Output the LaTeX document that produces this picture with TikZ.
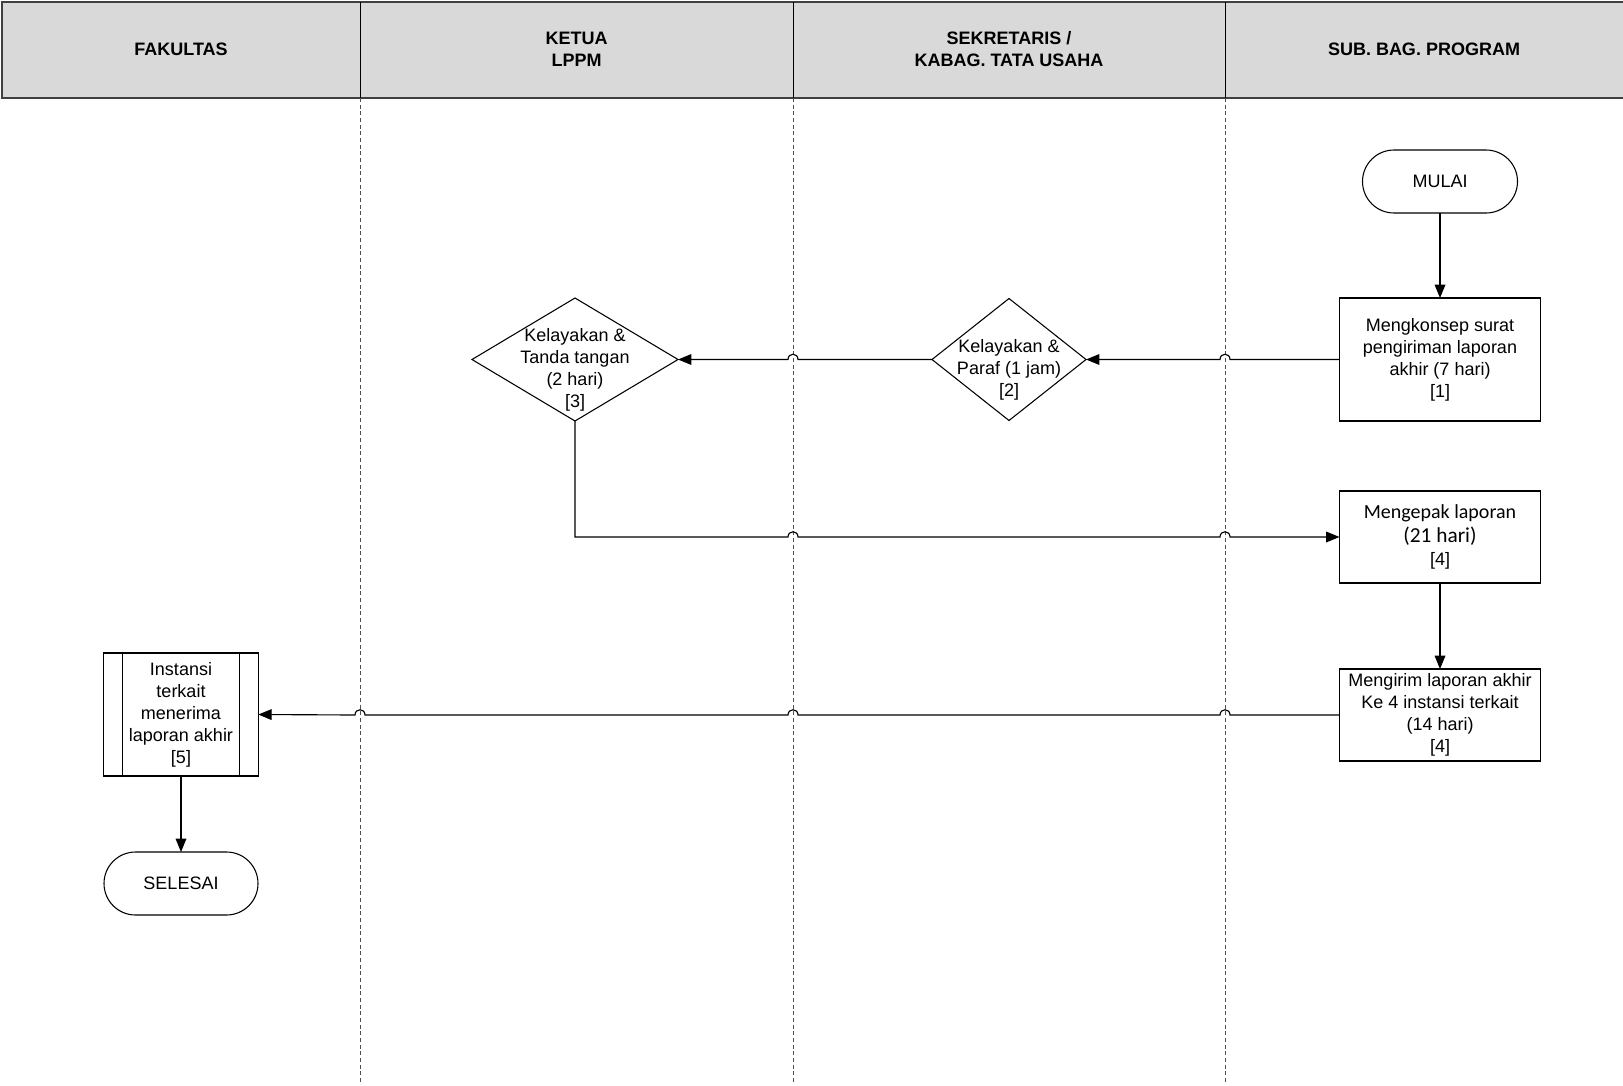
\documentclass[tikz,border=0pt]{standalone}
\usepackage{fontspec}
\setmainfont{Liberation Sans}
\newfontfamily\calibfont{Carlito}
\usetikzlibrary{shapes.geometric,shapes.misc,arrows.meta,calc}
\definecolor{hdrgray}{HTML}{D9D9D9}
\definecolor{lanegray}{HTML}{505050}
\begin{document}
\begin{tikzpicture}[x=0.75pt,y=-0.75pt,
  base/.style={draw=black, line width=0.8pt, inner sep=0pt, outer sep=0pt, align=center,
    font=\fontsize{13.5}{16.5}\selectfont},
  txt/.style={inner sep=0pt, align=center, font=\fontsize{13.5}{16.5}\selectfont},
  hdr/.style={inner sep=0pt, align=center, font=\bfseries\fontsize{13.5}{16.5}\selectfont},
  term/.style={base, rounded rectangle, minimum height=47.25pt},
  procbox/.style={base, rectangle},
  dia/.style={base, diamond},
  conn/.style={line width=0.85pt, -{Triangle[length=10pt,width=8pt]}},
  lane/.style={draw=lanegray, line width=0.75pt, dash pattern=on 3pt off 2pt}
]
\useasboundingbox (0,0) rectangle (1623,1085);

% header
\draw[fill=hdrgray, draw=black!75, line width=0.9pt] (2,2) rectangle (1624,98);
\coordinate (lane1) at (360,98);
\coordinate (lane2) at (793,98);
\coordinate (lane3) at (1225,98);
\draw[line width=0.75pt] (360,2) -- (lane1);
\draw[line width=0.75pt] (793,2) -- (lane2);
\draw[line width=0.75pt] (1225,2) -- (lane3);
\draw[lane] (lane1) -- (360,1082);
\draw[lane] (lane2) -- (793,1082);
\draw[lane] (lane3) -- (1225,1082);

\node[hdr] (h1) at (181,49) {FAKULTAS};
\node[hdr] (h2) at (576.5,49) {KETUA\\LPPM};
\node[hdr] (h3) at (1009,49) {SEKRETARIS /\\KABAG. TATA USAHA};
\node[hdr] (h4) at (1424,49) {SUB. BAG. PROGRAM};

% nodes
\node[term, minimum width=116.25pt] (mulai) at (1440,181.5) {MULAI};
\node[procbox, minimum width=150.75pt, minimum height=92.25pt] (b1) at (1440,359.5)
  {Mengkonsep surat\\pengiriman laporan\\akhir (7 hari)\\{}[1]};
\node[dia, minimum width=115.5pt, minimum height=91.5pt] (d2) at (1009,359.5) {};
\node[txt] (t2) at ($(d2)+(0,10)$) {Kelayakan \&\\Paraf (1 jam)\\{}[2]};
\node[dia, minimum width=154.5pt, minimum height=92.25pt] (d3) at (575,359.5) {};
\node[txt] (t3) at ($(d3)+(0,10)$) {Kelayakan \&\\Tanda tangan\\(2 hari)\\{}[3]};
\node[procbox, minimum width=150.75pt, minimum height=69pt] (b4) at (1440,537)
  {{\calibfont\fontsize{15}{16.5}\selectfont Mengepak laporan}\\[1pt]{\calibfont\fontsize{16}{17}\selectfont (21 hari)}\\[1pt]{}[4]};
\node[procbox, minimum width=150.75pt, minimum height=69pt] (b5) at (1440,715)
  {Mengirim laporan akhir\\Ke 4 instansi terkait\\(14 hari)\\{}[4]};
\node[procbox, minimum width=115.9pt, minimum height=92.25pt] (inst) at (181,714.5)
  {Instansi\\terkait\\menerima\\laporan akhir\\{}[5]};
\draw[line width=0.8pt] ($(inst.north west)+(18.6,0)$) -- ($(inst.south west)+(18.6,0)$);
\draw[line width=0.8pt] ($(inst.north east)+(-18.6,0)$) -- ($(inst.south east)+(-18.6,0)$);
\node[term, minimum width=115.5pt] (selesai) at (181,883.5) {SELESAI};

% crossing points
\coordinate (c1) at (b1.west -| lane3);
\coordinate (c2) at (d2.west -| lane2);
\coordinate (c4) at (b4.west -| lane2);
\coordinate (c5) at (b4.west -| lane3);
\coordinate (c6) at (b5.west -| lane3);
\coordinate (c7) at (b5.west -| lane2);
\coordinate (c8) at (b5.west -| lane1);

% connectors
\draw[conn] (mulai.south) -- (b1.north);
\draw[conn] (b1.west) -- ($(c1)+(5,0)$) .. controls +(0,-7) and +(0,-7) .. ($(c1)+(-5,0)$) -- (d2.east);
\draw[conn] (d2.west) -- ($(c2)+(5,0)$) .. controls +(0,-7) and +(0,-7) .. ($(c2)+(-5,0)$) -- (d3.east);
\draw[conn] (d3.south) |- ($(c4)+(-5,0)$) .. controls +(0,-7) and +(0,-7) .. ($(c4)+(5,0)$)
  -- ($(c5)+(-5,0)$) .. controls +(0,-7) and +(0,-7) .. ($(c5)+(5,0)$) -- (b4.west);
\draw[conn] (b4.south) -- (b5.north);
\draw[conn] (b5.west) -- ($(c6)+(5,0)$) .. controls +(0,-7) and +(0,-7) .. ($(c6)+(-5,0)$)
  -- ($(c7)+(5,0)$) .. controls +(0,-7) and +(0,-7) .. ($(c7)+(-5,0)$)
  -- ($(c8)+(5,0)$) .. controls +(0,-7) and +(0,-7) .. ($(c8)+(-5,0)$) -- (inst.east);
\draw[conn] (inst.south) -- (selesai.north);
\end{tikzpicture}
\end{document}
